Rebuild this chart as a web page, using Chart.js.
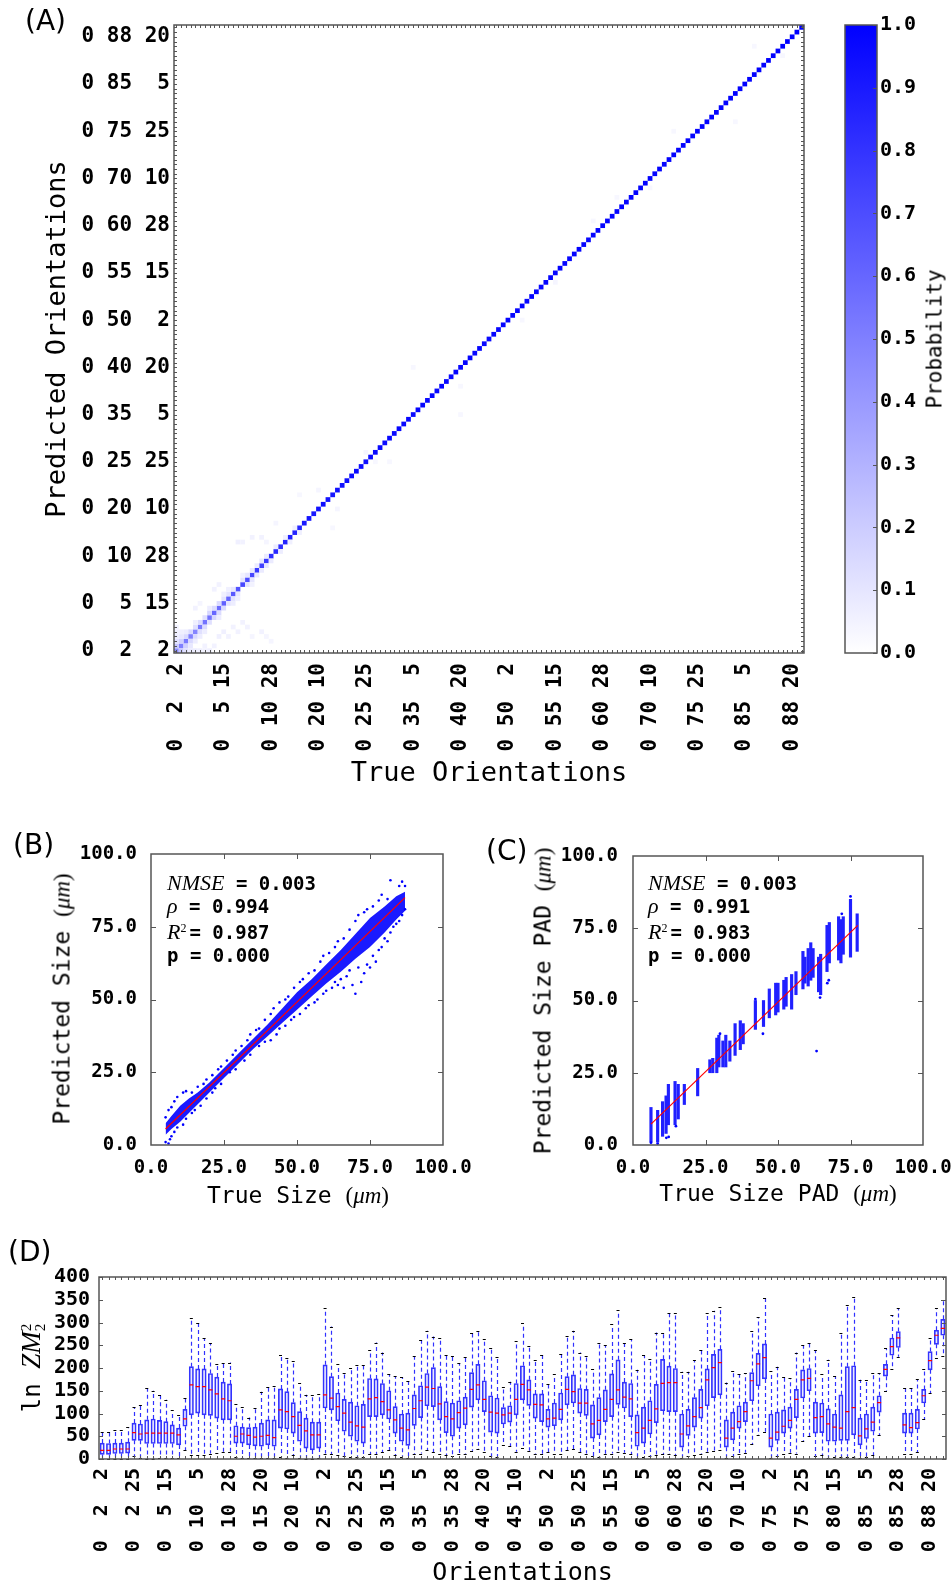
<!DOCTYPE html>
<html>
<head>
<meta charset="utf-8">
<script src="https://cdn.jsdelivr.net/npm/chart.js@4.4.0/dist/chart.umd.min.js"></script>
<style>
  html, body { margin: 0; padding: 0; background: #fff; }
  body { position: relative; width: 952px; height: 1586px; overflow: hidden; font-family: "DejaVu Sans Mono", monospace; color: #000; }
  canvas { position: absolute; }
  .lbl { position: absolute; white-space: nowrap; line-height: 1; }
  .cy { transform: translateY(-50%); }
  .rot { transform: translate(-50%, -50%) rotate(-90deg); }
  .panel { font-family: "DejaVu Sans", sans-serif; font-size: 28px; }
  .m { font-family: "Liberation Serif", serif; font-style: italic; }
  .sr { font-family: "Liberation Serif", serif; }
  .stats { position: absolute; font-weight: bold; font-size: 19px; line-height: 22.6px; white-space: nowrap; }
  .stats .m { font-weight: normal; font-size: 22px; }
  .stats sup { font-family: "Liberation Serif", serif; font-weight: normal; font-size: 12px; margin-right: 3px; }
</style>
</head>
<body>
<canvas id="heat" width="952" height="790" style="left:0px;top:0px"></canvas>
<canvas id="cbar" width="132" height="680" style="left:820px;top:0px"></canvas>
<canvas id="sizeB" width="480" height="380" style="left:0px;top:830px"></canvas>
<canvas id="sizeC" width="472" height="380" style="left:480px;top:830px"></canvas>
<canvas id="boxD" width="952" height="346" style="left:0px;top:1240px"></canvas>

<div class="lbl cy panel" style="left:25px;top:21px">(A)</div>
<div class="lbl cy panel" style="left:13px;top:845px">(B)</div>
<div class="lbl cy panel" style="left:486px;top:851px">(C)</div>
<div class="lbl cy panel" style="left:8px;top:1252px">(D)</div>

<div class="lbl rot" style="left:935px;top:339px;font-size:21px">Probability</div>

<div class="lbl rot" style="left:62px;top:999px;font-size:23px">Predicted Size <span class="sr">(<i>μm</i>)</span></div>
<div class="lbl" style="left:298px;top:1195px;font-size:23px;transform:translate(-50%,-50%)">True Size <span class="sr">(<i>μm</i>)</span></div>
<div class="lbl rot" style="left:543px;top:1001px;font-size:23px">Predicted Size PAD <span class="sr">(<i>μm</i>)</span></div>
<div class="lbl" style="left:778px;top:1193px;font-size:23px;transform:translate(-50%,-50%)">True Size PAD <span class="sr">(<i>μm</i>)</span></div>
<div class="lbl rot" style="left:33px;top:1368px;font-size:24px">ln <span class="m" style="font-size:27px">ZM</span><span style="display:inline-block;vertical-align:middle;line-height:0.95;font-family:'Liberation Serif',serif;font-size:15px"><span style="display:block">2</span><span style="display:block">2</span></span></div>

<div class="stats" style="left:167px;top:872px">
  <div><span class="m">NMSE</span> = 0.003</div>
  <div><span class="m">ρ</span> = 0.994</div>
  <div><span class="m">R</span><sup>2</sup>= 0.987</div>
  <div>p = 0.000</div>
</div>
<div class="stats" style="left:648px;top:872px">
  <div><span class="m">NMSE</span> = 0.003</div>
  <div><span class="m">ρ</span> = 0.991</div>
  <div><span class="m">R</span><sup>2</sup>= 0.983</div>
  <div>p = 0.000</div>
</div>

<script>
// orientation categories: (0, theta, phi)
const thetas = [2, 5, 10, 15, 20, 25, 30, 35, 40, 45, 50, 55, 60, 65, 70, 75, 80, 85, 88];
const phis = [2, 5, 10, 15, 20, 25, 28];
const pad2 = n => String(n).padStart(2, ' ');
const orientLabels = [];
thetas.forEach(t => phis.forEach(p => orientLabels.push('0 ' + pad2(t) + ' ' + pad2(p))));
const nCat = orientLabels.length;

// (A) confusion matrix: diagonal probabilities, one row of 7 per theta
const diagProb = [
  0.45, 0.50, 0.52, 0.50, 0.48, 0.52, 0.55,
  0.55, 0.60, 0.58, 0.62, 0.60, 0.65, 0.68,
  0.72, 0.70, 0.72, 0.78, 0.74, 0.78, 0.82,
  0.84, 0.82, 0.86, 0.88, 0.86, 0.85, 0.90,
  0.92, 0.90, 0.93, 0.95, 0.92, 0.91, 0.94,
  0.93, 0.95, 0.94, 0.96, 0.95, 0.93, 0.96,
  0.96, 0.97, 0.95, 0.97, 0.96, 0.98, 0.97,
  0.97, 0.96, 0.98, 0.97, 0.96, 0.98, 0.97,
  0.98, 0.97, 0.96, 0.98, 0.97, 0.98, 0.99,
  0.97, 0.98, 0.97, 0.96, 0.98, 0.97, 0.98,
  0.98, 0.97, 0.98, 0.99, 0.97, 0.98, 0.98,
  0.97, 0.98, 0.98, 0.97, 0.99, 0.98, 0.97,
  0.98, 0.99, 0.98, 0.97, 0.98, 0.99, 0.98,
  0.99, 0.98, 0.98, 0.99, 0.98, 0.98, 0.99,
  0.98, 0.99, 0.99, 0.98, 0.99, 0.98, 0.99,
  0.99, 0.98, 0.99, 0.99, 0.98, 0.99, 0.99,
  0.99, 0.99, 0.98, 0.99, 0.99, 0.99, 1.00,
  0.99, 1.00, 0.99, 0.99, 1.00, 0.99, 1.00,
  1.00, 0.99, 1.00, 1.00, 0.99, 1.00, 1.00
];
// off-diagonal cells: [true index, predicted index, probability]
const offDiag = [
  [0,1,.22],[1,0,.22],[1,2,.18],[2,1,.18],[2,3,.15],[3,2,.15],[3,4,.15],[4,3,.15],[4,5,.12],[5,4,.12],
  [5,6,.14],[6,5,.14],[0,2,.12],[2,0,.12],[1,3,.09],[3,1,.09],[0,3,.08],[3,0,.08],[0,4,.06],[4,0,.07],
  [1,4,.06],[2,4,.07],[4,2,.07],[5,3,.07],[6,4,.07],[4,6,.06],[0,5,.05],[5,0,.06],[6,0,.05],[6,1,.05],
  [7,0,.06],[8,1,.05],[7,6,.12],[6,7,.12],
  [7,8,.16],[8,7,.16],[8,9,.14],[9,8,.14],[9,10,.14],[10,9,.14],[10,11,.11],[11,10,.11],[11,12,.11],
  [12,11,.11],[12,13,.09],[13,12,.09],[7,9,.07],[9,7,.07],[10,12,.06],[12,10,.07],[11,13,.06],[13,11,.06],
  [9,3,.06],[10,4,.06],[11,3,.05],[12,5,.05],[13,4,.05],[14,6,.05],[15,5,.05],[16,3,.04],[18,4,.05],
  [19,3,.04],[20,2,.04],
  [14,15,.11],[15,14,.11],[15,16,.10],[16,15,.10],[16,17,.09],[17,16,.09],[17,18,.08],[18,17,.08],
  [18,19,.09],[19,18,.09],[19,20,.08],[20,19,.08],[14,16,.05],[16,14,.05],
  [21,22,.07],[22,21,.07],[23,24,.06],[24,23,.06],[25,26,.06],[26,25,.06],[21,27,.04],
  [13,23,.06],[14,23,.05],[16,24,.05],[18,24,.05],[19,23,.04],[8,13,.05],[9,14,.05],[4,9,.05],[5,10,.04],
  [30,34,.04],[34,30,.04],[40,42,.04],[42,40,.03],[26,33,.03],[33,26,.03],[45,40,.03],[50,60,.03],
  [60,50,.03],[60,56,.03],[73,70,.03],[80,78,.04],[88,91,.03],[93,96,.03],[100,98,.03],[105,110,.03],
  [118,112,.03],[122,128,.03],[128,126,.03]
];
const cbTicks = [0, 0.1, 0.2, 0.3, 0.4, 0.5, 0.6, 0.7, 0.8, 0.9, 1.0];

// (B) predicted vs true size: dense core band + sparse points + fit
const bandX  = [5, 7, 10, 13, 16, 20, 25, 30, 35, 40, 45, 50, 55, 60, 65, 70, 75, 80, 84, 87];
const bandLo = [3.5, 5.5, 8, 11, 14, 18, 23, 28, 33, 37.5, 42, 46.5, 51, 55.5, 59.5, 64, 68, 73, 77.5, 80.5];
const bandHi = [7.5, 10, 13.5, 16, 18, 21.5, 26.5, 31.5, 36.5, 41.5, 47, 52.5, 57, 62, 67, 72.5, 78, 82, 85.5, 87];
const sizePoints = [
  [5,9.5],[6,12],[7,13],[8,15],[9,16.5],[11,18],[12,18.5],[14,18],[16,20],[18,21],[19,22.5],[21,24],
  [23,26],[24,27],[26,29],[28,31],[29,32.5],[31,34],[33,36],[34,38],[36,39.5],[37,40],[39,43],[41,45],
  [42,47],[44,49],[46,50],[47,51],[49,54],[51,56],[52,57],[54,59],[56,60],[58,63],[59,65],[61,66],
  [63,68],[64,70],[66,71],[68,74],[70,77],[71,79],[73,80],[74,81],[76,82],[78,84],[79,86],[81,84.5],
  [82,91],[85,89],[86,90.5],[87,89],
  [5,1],[6,0.5],[6.5,2],[7,3],[8,4.5],[9,6],[11,7],[12,9],[14,11],[15,12],[17,13.5],[19,16],[21,18],
  [22,19.5],[24,21],[27,25],[29,26],[32,29],[34,31],[37,34],[39,35.5],[41,36],[43,38],[44,40],[46,41],
  [48,43],[49,44],[51,45],[53,47],[54,48],[56,49],[57,50],[59,52],[60,53],[62,54],[63,56],[64,55],
  [65,57],[66,54],[67,58],[68,60],[69,55],[70,52],[71,61],[72,56],[73,59],[74,62],[75,61],[76,65],
  [77,63],[78,67],[79,68],[80,71],[81,70],[82,73],[83,75],[84,76],[85,77],[86,79],[87,81]
];
const sizeFit = [[5, 5.5], [87, 85]];

// (C) predicted vs true size PAD: vertical strips at discrete true sizes
const padX  = [6.2, 8.5, 10.2, 11.4, 12.2, 14.5, 15.6, 17.7, 22.3, 26.5, 27.5, 28.9, 29.6, 31, 32, 33.4, 35.2, 37, 38, 42.2, 45, 47, 49.2, 50, 52, 52.8, 54.7, 56.2, 58.6, 59.3, 60.4, 61.3, 62.1, 64, 64.7, 66.9, 67.7, 70.9, 71.7, 72.5, 75, 77.3];
const padLo = [1, 1, 3, 4, 7, 7, 9, 14, 17, 25, 25, 25, 27, 27, 27, 29, 31, 33, 35, 40, 41, 44, 45, 46, 47, 48, 47, 52, 54, 56, 55, 57, 58, 53, 52, 60, 63, 64, 63, 66, 65, 67];
const padHi = [13, 12, 15, 17, 21, 22, 21, 21, 26.5, 29.5, 30, 37, 38, 36, 38, 36, 42, 43, 42, 50, 50, 54, 56, 56, 57, 58, 59, 60, 67, 65, 68, 70, 68, 65, 66, 76, 77, 79, 78, 79, 85, 80];
const padOutliers = [[63.3,32.5],[14.8,6.5],[11.5,2.5],[12.3,2.8],[44.8,38.5],[30,38.5],[67,56],[67.5,57],[6.2,0.8],[8.5,0.5],[75,86],[72,80],[64.5,51],[42.2,50.5]];
const padFit = [[6.2, 7.2], [77.5, 76]];

// (D) ln ZM2^2 box plots per orientation (7 per theta)
const zmQ3 = [
  35,34,35,35,37,79,77, 86,88,85,82,75,68,109, 203,198,198,188,180,169,165, 73,70,69,70,79,86,86,
  154,148,124,104,90,81,81, 207,181,145,131,125,117,120, 177,176,166,150,115,99,101,
  141,161,188,201,159,126,123, 128,136,190,208,172,139,134, 113,117,166,205,174,143,143,
  109,123,145,181,185,155,153, 119,135,152,187,218,169,166, 97,114,128,164,219,204,199,
  99,109,135,153,198,230,241, 86,103,117,125,190,232,253, 99,103,108,114,153,196,199,
  125,123,110,99,141,203,205, 90,99,114,139,208,266,280, 101,101,109,153,236,283,307
];
const zmMed = [
  19,19,22,22,22,58,55, 57,57,57,57,57,53,88, 163,159,159,152,143,132,128, 50,55,52,48,50,52,47,
  108,104,93,74,62,53,53, 141,134,115,101,81,73,70, 132,135,126,108,86,68,64,
  111,128,158,155,121,93,88, 102,112,153,163,131,103,101, 97,101,131,164,152,120,119,
  88,90,109,153,148,123,123, 77,85,109,131,152,136,132, 58,68,85,110,166,168,168,
  55,73,93,113,174,201,212, 46,68,82,104,172,209,223, 46,59,72,85,131,174,177,
  91,93,77,70,68,104,113, 51,66,81,124,197,247,266, 75,69,80,139,216,272,287
];
const zmQ1 = [
  10,10,12,12,13,41,41, 34,34,34,34,34,31,72, 97,101,97,96,90,86,86, 35,35,31,29,28,31,28,
  68,66,57,39,24,20,24, 112,108,84,61,50,39,35, 93,93,97,88,57,39,30,
  74,91,117,115,86,58,50, 68,75,114,130,104,59,57, 77,81,97,130,118,90,82,
  70,73,86,119,123,101,96, 46,53,82,93,120,112,93, 28,35,55,80,106,104,104,
  26,52,70,90,117,135,141, 26,42,68,82,128,161,176, 26,41,57,68,91,134,150,
  57,58,39,39,41,41,53, 31,45,61,103,182,228,245, 57,57,66,123,196,252,272
];
const zmHi = [
  59,60,63,63,70,114,119, 155,150,141,130,107,97,134, 309,299,266,255,208,210,212, 120,114,91,113,148,159,161,
  228,223,215,166,141,141,142, 331,291,208,190,201,207,207, 239,256,234,186,182,180,172,
  226,261,282,269,266,228,226, 210,225,277,281,263,243,225, 159,170,259,298,248,218,228,
  165,187,230,271,282,234,226, 197,255,250,296,327,255,263, 196,228,220,278,278,321,321,
  192,192,217,239,321,326,333, 168,193,186,188,281,311,354, 193,203,181,177,234,250,255,
  239,187,218,182,276,338,356, 174,174,190,188,243,316,331, 155,155,175,197,266,331,350
];
const zmLo = [
  0,0,0,0,0,6,2, 0,0,2,2,3,2,20, 8,8,9,12,13,15,15, 5,3,3,2,2,3,3,
  5,3,8,3,0,0,2, 12,10,8,6,5,4,4, 10,10,15,20,8,5,2,
  10,12,20,15,12,8,6, 10,12,18,22,15,6,5, 30,28,16,24,18,12,10,
  15,12,12,20,22,15,12, 6,4,10,12,16,14,10, 2,4,6,8,10,10,8,
  3,6,8,12,15,18,20, 3,6,10,14,33,52,60, 2,6,10,14,12,40,50,
  6,8,3,4,4,4,5, 3,5,8,53,150,197,225, 10,11,15,88,145,223,226
];
const zmTicks = [0, 50, 100, 150, 200, 250, 300, 350, 400];
const sizeTicks = [25, 50, 75];

Chart.defaults.font.family = '"DejaVu Sans Mono", monospace';
Chart.defaults.color = '#000';
Chart.defaults.animation = false;
Chart.defaults.events = [];
Chart.defaults.plugins.legend.display = false;
Chart.defaults.plugins.tooltip.enabled = false;

const boldTick = size => ({ family: '"DejaVu Sans Mono", monospace', size: size, weight: 'bold' });
const allIdx = orientLabels.map((_, i) => i);

// frame round the plot area plus small inward tick marks (matplotlib style)
const frameTicks = {
  id: 'frameTicks',
  afterDatasetsDraw(chart, args, o) {
    const { ctx, chartArea: a, scales } = chart;
    ctx.save();
    ctx.strokeStyle = '#555';
    ctx.lineWidth = 1;
    ctx.beginPath();
    (o.x || []).forEach(v => {
      const px = Math.round(scales.x.getPixelForValue(v)) + 0.5;
      ctx.moveTo(px, a.bottom); ctx.lineTo(px, a.bottom - o.xLen);
      ctx.moveTo(px, a.top); ctx.lineTo(px, a.top + o.xLen);
    });
    (o.y || []).forEach(v => {
      const py = Math.round(scales.y.getPixelForValue(v)) + 0.5;
      if (!o.rightOnly) { ctx.moveTo(a.left, py); ctx.lineTo(a.left + o.yLen, py); }
      ctx.moveTo(a.right, py); ctx.lineTo(a.right - o.yLen, py);
    });
    ctx.stroke();
    ctx.lineWidth = 1.5;
    ctx.strokeRect(a.left, a.top, a.right - a.left, a.bottom - a.top);
    ctx.restore();
  }
};

// (A) heatmap
const probColor = ctx => {
  const v = ctx.raw ? ctx.raw.v : 0;
  const c = Math.round(255 * (1 - v));
  return 'rgb(' + c + ',' + c + ',255)';
};
const cellRadius = ctx => {
  const a = ctx.chart.chartArea;
  const w = a ? (a.right - a.left) / nCat : 4.7;
  return w / Math.SQRT2;
};
const everyTenth = s => { s.ticks = allIdx.filter(i => i % 10 === 0).map(v => ({ value: v })); };

new Chart(document.getElementById('heat'), {
  type: 'scatter',
  data: {
    datasets: [
      { data: offDiag.map(d => ({ x: d[0], y: d[1], v: d[2] })), pointStyle: 'rect', pointRadius: cellRadius, pointBorderWidth: 0, pointBackgroundColor: probColor },
      { data: diagProb.map((v, i) => ({ x: i, y: i, v: v })), pointStyle: 'rect', pointRadius: cellRadius, pointBorderWidth: 0, pointBackgroundColor: probColor }
    ]
  },
  options: {
    responsive: false,
    layout: { padding: { left: 0, top: 25, right: 148, bottom: 0 } },
    scales: {
      x: {
        type: 'linear', min: -0.5, max: nCat - 0.5,
        afterBuildTicks: everyTenth,
        afterFit: s => { s.height = 137; s.paddingLeft = 0; s.paddingRight = 0; },
        grid: { display: false, drawTicks: false },
        border: { display: false },
        ticks: { autoSkip: false, minRotation: 90, maxRotation: 90, padding: 10, font: boldTick(21), callback: v => orientLabels[v] },
        title: { display: true, text: 'True Orientations', font: { size: 27 }, padding: { top: 0, bottom: 0 } }
      },
      y: {
        type: 'linear', min: -0.5, max: nCat - 0.5,
        afterBuildTicks: everyTenth,
        afterFit: s => { s.width = 174; s.paddingTop = 0; s.paddingBottom = 0; },
        grid: { display: false, drawTicks: false },
        border: { display: false },
        ticks: { autoSkip: false, padding: 4, font: boldTick(21), callback: v => orientLabels[v] },
        title: { display: true, text: 'Predicted Orientations', font: { size: 27 }, padding: { top: 42, bottom: 0 } }
      }
    },
    plugins: { frameTicks: { x: allIdx, y: allIdx, xLen: 3, yLen: 3 } }
  },
  plugins: [frameTicks]
});

// colour bar
new Chart(document.getElementById('cbar'), {
  type: 'bar',
  data: {
    labels: [''],
    datasets: [{
      data: [[0, 1]],
      barPercentage: 1, categoryPercentage: 1, borderWidth: 0,
      backgroundColor: ctx => {
        const a = ctx.chart.chartArea;
        if (!a) return '#8080ff';
        const g = ctx.chart.ctx.createLinearGradient(0, a.bottom, 0, a.top);
        g.addColorStop(0, '#ffffff');
        g.addColorStop(1, '#0000ff');
        return g;
      }
    }]
  },
  options: {
    responsive: false,
    layout: { padding: { left: 25, top: 25, right: 0, bottom: 27 } },
    scales: {
      x: { display: false },
      y: {
        position: 'right', min: 0, max: 1,
        afterBuildTicks: s => { s.ticks = cbTicks.map(v => ({ value: v })); },
        afterFit: s => { s.width = 75; s.paddingTop = 0; s.paddingBottom = 0; },
        grid: { display: false, drawTicks: false },
        border: { display: false },
        ticks: { autoSkip: false, padding: 3, font: boldTick(20), callback: v => v.toFixed(1) }
      }
    },
    plugins: { frameTicks: { y: cbTicks, yLen: 4, rightOnly: true } }
  },
  plugins: [frameTicks]
});

// (B) and (C) shared axis setup
const sizeScale = (fitFn, pad) => ({
  type: 'linear', min: 0, max: 100,
  afterBuildTicks: s => { s.ticks = [0, 25, 50, 75, 100].map(v => ({ value: v })); },
  afterFit: fitFn,
  grid: { display: false, drawTicks: false },
  border: { display: false },
  ticks: { autoSkip: false, padding: pad, font: boldTick(19), callback: v => v.toFixed(1) }
});

new Chart(document.getElementById('sizeB'), {
  type: 'scatter',
  data: {
    datasets: [
      { type: 'line', data: sizeFit.map(p => ({ x: p[0], y: p[1] })), borderColor: '#ff0000', borderWidth: 1.2, pointRadius: 0, order: 0 },
      { data: sizePoints.map(p => ({ x: p[0], y: p[1] })), pointRadius: 1.3, pointBorderWidth: 0, pointBackgroundColor: '#0000ff', order: 1 },
      { type: 'line', data: bandX.map((x, i) => ({ x: x, y: bandLo[i] })), borderWidth: 0, pointRadius: 0, fill: false, order: 2 },
      { type: 'line', data: bandX.map((x, i) => ({ x: x, y: bandHi[i] })), borderWidth: 0, pointRadius: 0, fill: '-1', backgroundColor: '#1a1aff', order: 2 }
    ]
  },
  options: {
    responsive: false,
    layout: { padding: { left: 0, top: 24, right: 37, bottom: 0 } },
    scales: {
      x: sizeScale(s => { s.height = 65; s.paddingLeft = 0; s.paddingRight = 0; }, 12),
      y: sizeScale(s => { s.width = 151; s.paddingTop = 0; s.paddingBottom = 0; }, 14)
    },
    plugins: { frameTicks: { x: sizeTicks, y: sizeTicks, xLen: 5, yLen: 5 } }
  },
  plugins: [frameTicks]
});

new Chart(document.getElementById('sizeC'), {
  type: 'bar',
  data: {
    datasets: [
      { type: 'line', data: padFit.map(p => ({ x: p[0], y: p[1] })), borderColor: '#ff0000', borderWidth: 1.2, pointRadius: 0, order: 0 },
      { type: 'scatter', data: padOutliers.map(p => ({ x: p[0], y: p[1] })), pointRadius: 1.4, pointBorderWidth: 0, pointBackgroundColor: '#0000ff', order: 1 },
      { type: 'bar', data: padX.map((x, i) => ({ x: x, y: [padLo[i], padHi[i]] })), barThickness: 2.5, backgroundColor: '#2020ff', borderWidth: 0, order: 2 }
    ]
  },
  options: {
    responsive: false,
    layout: { padding: { left: 0, top: 26, right: 29, bottom: 0 } },
    scales: {
      x: Object.assign(sizeScale(s => { s.height = 65; s.paddingLeft = 0; s.paddingRight = 0; }, 12), { offset: false }),
      y: sizeScale(s => { s.width = 153; s.paddingTop = 0; s.paddingBottom = 0; }, 15)
    },
    plugins: { frameTicks: { x: sizeTicks, y: sizeTicks, xLen: 5, yLen: 5 } }
  },
  plugins: [frameTicks]
});

// (D) whiskers, caps and medians drawn from the same arrays via the chart scales
const boxExtras = {
  id: 'boxExtras',
  afterDatasetsDraw(chart) {
    const { ctx, scales: { x, y } } = chart;
    ctx.save();
    ctx.lineWidth = 1.2;
    ctx.strokeStyle = '#3030ff';
    ctx.setLineDash([4, 3]);
    ctx.beginPath();
    allIdx.forEach(i => {
      const px = Math.round(x.getPixelForValue(i)) + 0.5;
      ctx.moveTo(px, y.getPixelForValue(zmQ3[i])); ctx.lineTo(px, y.getPixelForValue(zmHi[i]));
      ctx.moveTo(px, y.getPixelForValue(zmQ1[i])); ctx.lineTo(px, y.getPixelForValue(zmLo[i]));
    });
    ctx.stroke();
    ctx.setLineDash([]);
    ctx.strokeStyle = '#000';
    ctx.lineWidth = 1;
    ctx.beginPath();
    allIdx.forEach(i => {
      const px = x.getPixelForValue(i);
      [zmHi[i], zmLo[i]].forEach(v => {
        const py = Math.round(y.getPixelForValue(v)) + 0.5;
        ctx.moveTo(px - 1.5, py); ctx.lineTo(px + 1.5, py);
      });
    });
    ctx.stroke();
    ctx.strokeStyle = '#ff0000';
    ctx.lineWidth = 1.2;
    ctx.beginPath();
    allIdx.forEach(i => {
      const px = x.getPixelForValue(i);
      const py = y.getPixelForValue(zmMed[i]);
      ctx.moveTo(px - 2, py); ctx.lineTo(px + 2, py);
    });
    ctx.stroke();
    ctx.restore();
  }
};

new Chart(document.getElementById('boxD'), {
  type: 'bar',
  data: {
    labels: orientLabels,
    datasets: [{
      data: zmQ1.map((q, i) => [q, zmQ3[i]]),
      barThickness: 4.3,
      backgroundColor: 'rgba(70,70,255,0.12)',
      borderColor: '#3333ff',
      borderWidth: 1,
      borderSkipped: false
    }]
  },
  options: {
    responsive: false,
    layout: { padding: { left: 0, top: 37, right: 6, bottom: 0 } },
    scales: {
      x: {
        type: 'category', offset: true,
        afterBuildTicks: s => { s.ticks = s.ticks.filter(t => t.value % 5 === 0); },
        afterFit: s => { s.height = 127; s.paddingLeft = 0; s.paddingRight = 0; },
        grid: { display: false, drawTicks: false },
        border: { display: false },
        ticks: { autoSkip: false, minRotation: 90, maxRotation: 90, padding: 9, font: boldTick(20) },
        title: { display: true, text: 'Orientations', font: { size: 25, lineHeight: 1 }, padding: { top: 0, bottom: 0 } }
      },
      y: {
        min: 0, max: 400,
        afterBuildTicks: s => { s.ticks = zmTicks.map(v => ({ value: v })); },
        afterFit: s => { s.width = 99; s.paddingTop = 0; s.paddingBottom = 0; },
        grid: { display: false, drawTicks: false },
        border: { display: false },
        ticks: { autoSkip: false, padding: 9, font: boldTick(20) }
      }
    },
    plugins: { frameTicks: { x: allIdx, y: zmTicks, xLen: 3, yLen: 4 } }
  },
  plugins: [boxExtras, frameTicks]
});
</script>
</body>
</html>
